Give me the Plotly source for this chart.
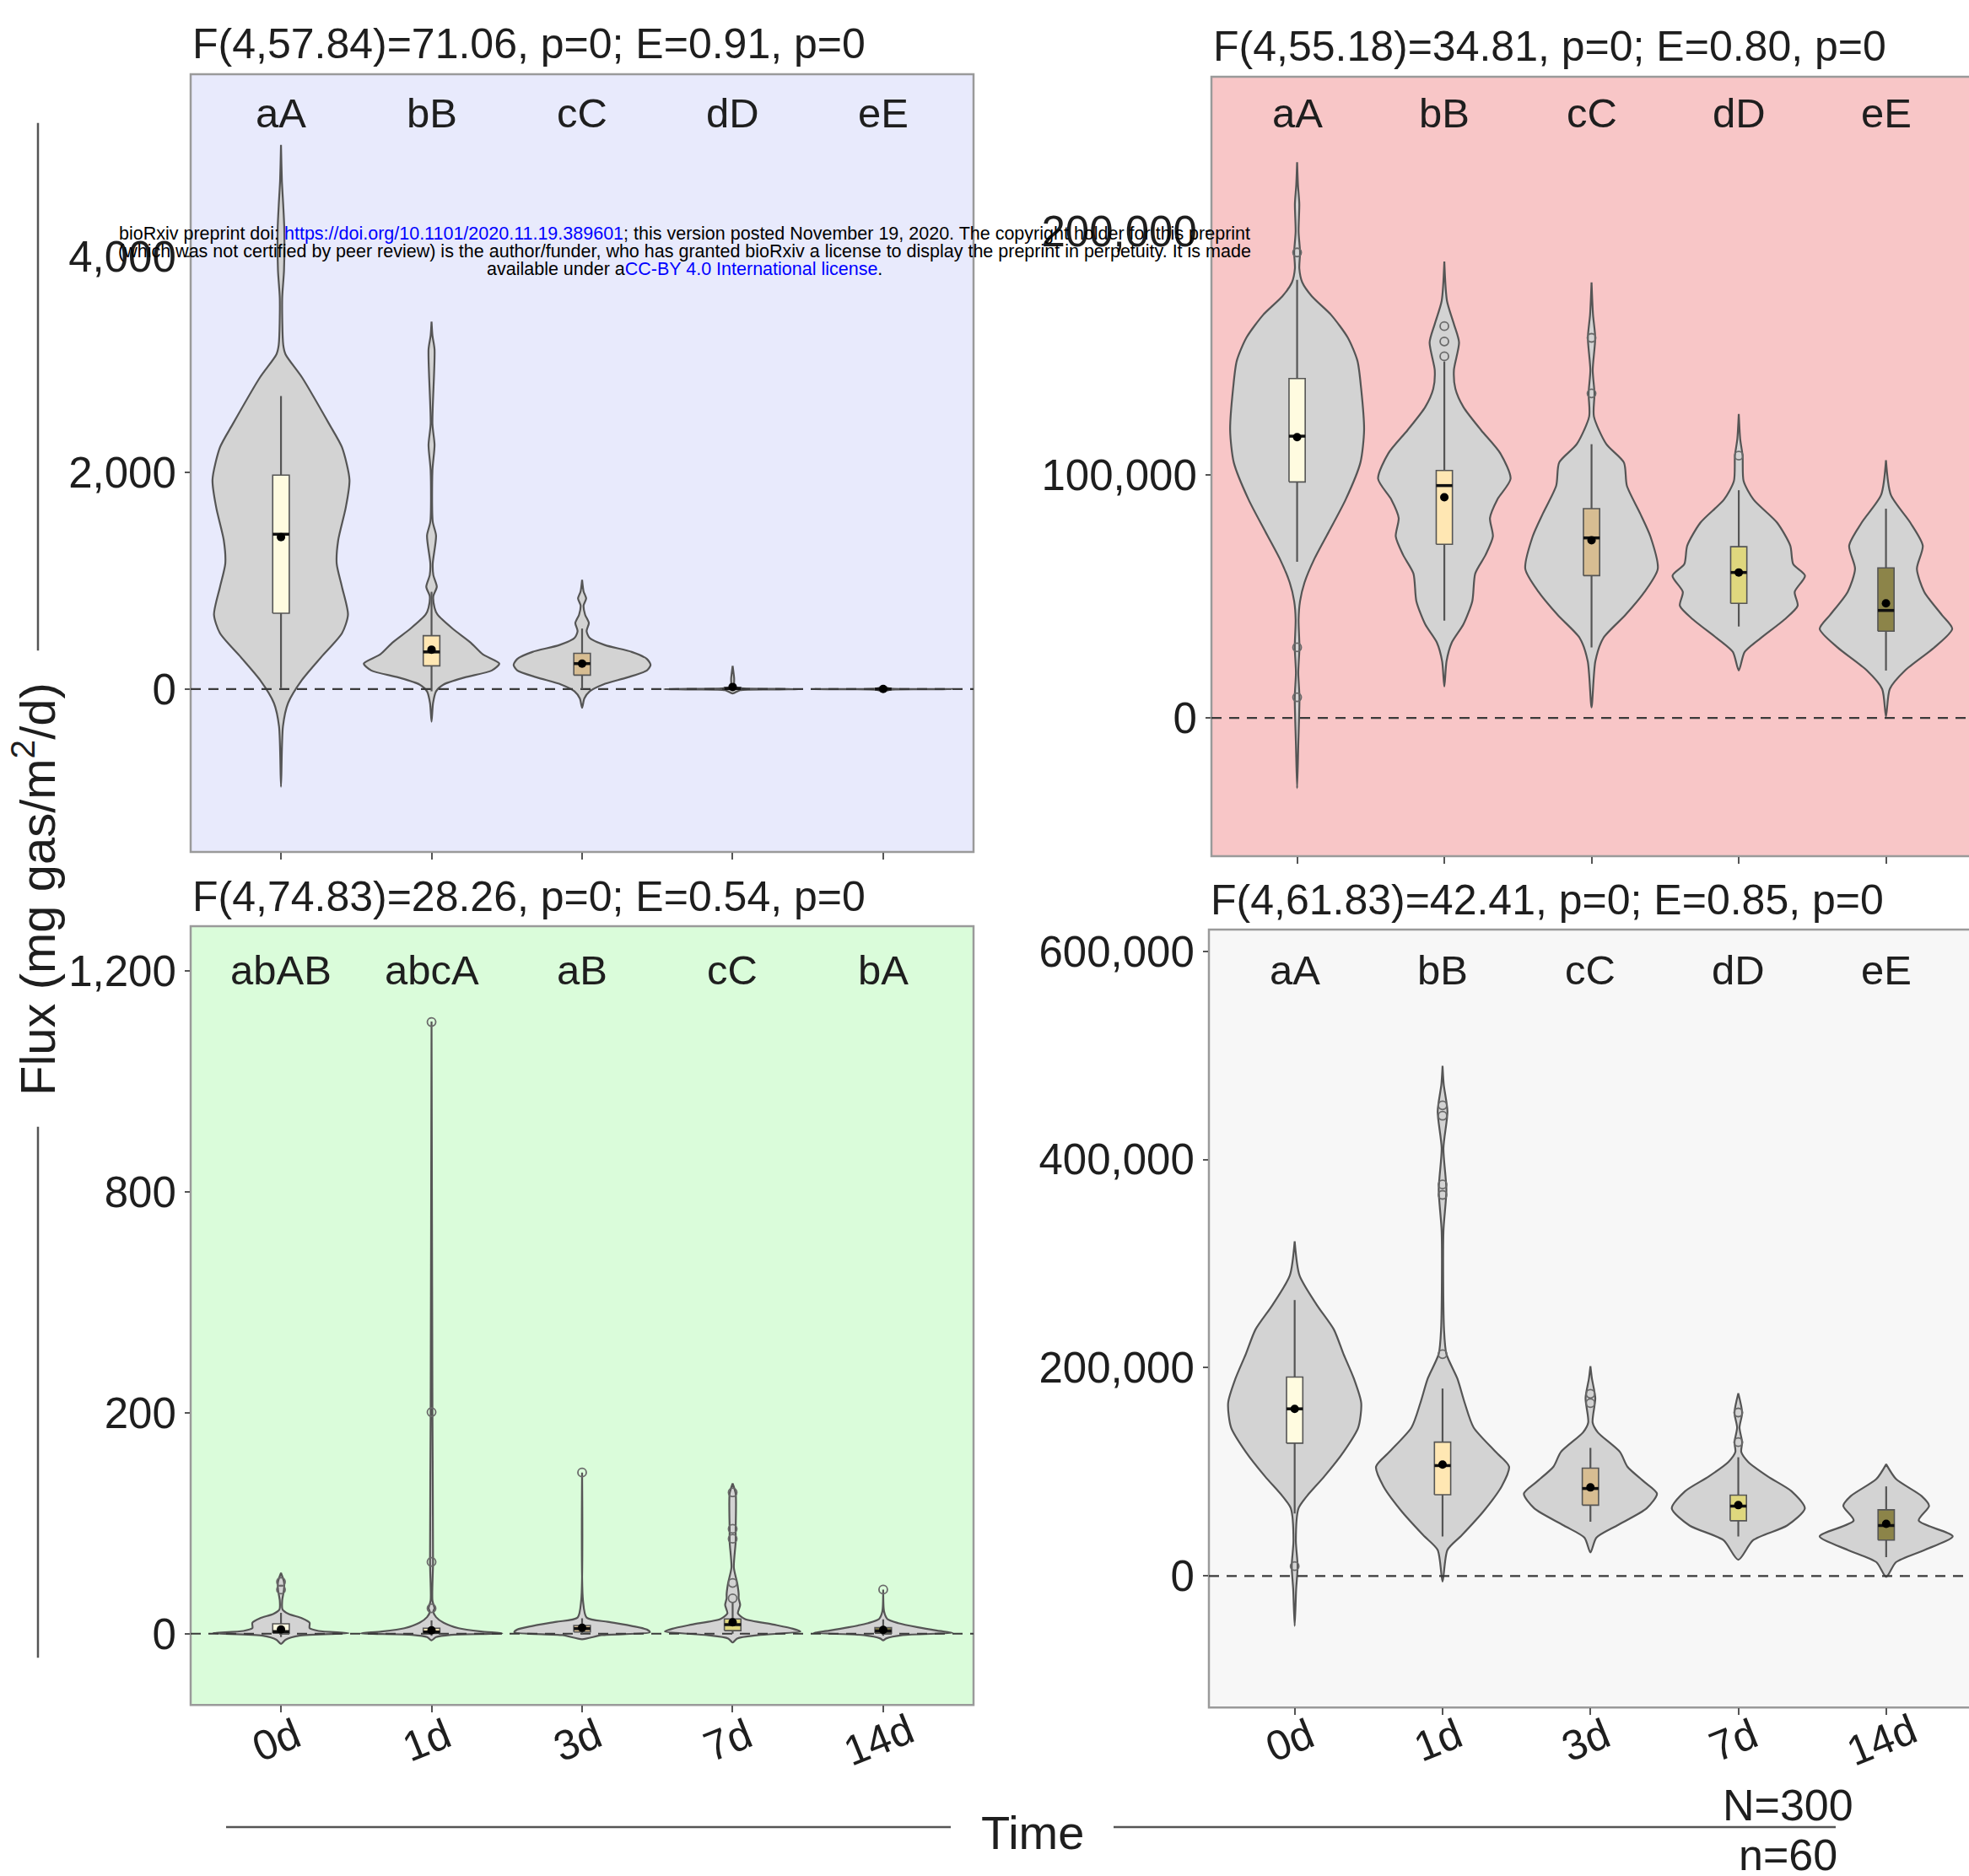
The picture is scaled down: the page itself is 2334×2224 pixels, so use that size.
import numpy as np
import plotly.graph_objects as go

W, H = 2334, 2224
FONT = "Liberation Sans, Arial, sans-serif"
TXT = "#1e1e1e"

categories = ["0d", "1d", "3d", "7d", "14d"]
box_colors = ["#FFFBE0", "#FFE7B3", "#D7BD92", "#DFD77E", "#8C8449"]

titles = [
    "F(4,57.84)=71.06, p=0; E=0.91, p=0",
    "F(4,55.18)=34.81, p=0; E=0.80, p=0",
    "F(4,74.83)=28.26, p=0; E=0.54, p=0",
    "F(4,61.83)=42.41, p=0; E=0.85, p=0",
]
letters_a = ["aA", "bB", "cC", "dD", "eE"]
letters_b = ["aA", "bB", "cC", "dD", "eE"]
letters_c = ["abAB", "abcA", "aB", "cC", "bA"]
letters_d = ["aA", "bB", "cC", "dD", "eE"]

# ---------------- panel A (top-left, blue) ----------------
a_vals = [
    [-903, -344, -129, 86, 301, 516, 688, 946, 1161, 1376, 1677, 1935, 2236, 2451, 2881, 3096, 3182, 3612, 3870, 4257, 4472, 4700, 5031],
    [-301, -129, -21, 43, 108, 172, 236, 322, 430, 559, 688, 753, 860, 946, 1053, 1161, 1419, 1548, 2021, 2257, 2451, 3139, 3268, 3397],
    [-172, -86, -21, 43, 108, 172, 224, 280, 344, 408, 473, 537, 611, 688, 774, 838, 903, 1010],
    [-40, -10, -3, 0, 3, 10, 30, 100, 215],
    [-20, -5, -1.5, 0, 1.5, 5, 20],
]
a_width = [
    [0, 0.013, 0.047, 0.14, 0.27, 0.405, 0.445, 0.405, 0.37, 0.38, 0.43, 0.455, 0.405, 0.32, 0.14, 0.03, 0.015, 0.008, 0.02, 0.022, 0.015, 0.006, 0],
    [0, 0.01, 0.03, 0.08, 0.22, 0.40, 0.45, 0.34, 0.26, 0.14, 0.04, 0.02, 0.012, 0.035, 0.012, 0.008, 0.03, 0.008, 0.006, 0.02, 0.006, 0.02, 0.006, 0],
    [0, 0.015, 0.05, 0.14, 0.3, 0.43, 0.455, 0.43, 0.33, 0.15, 0.05, 0.03, 0.045, 0.02, 0.01, 0.027, 0.01, 0],
    [0, 0.05, 0.3, 0.455, 0.3, 0.04, 0.012, 0.01, 0],
    [0, 0.05, 0.3, 0.455, 0.3, 0.05, 0],
]
a_q1 = [701, 215, 129, 0, 0]
a_median = [1432, 344, 236, 5, 1]
a_q3 = [1978, 494, 331, 15, 2]
a_mean = [1406, 365, 236, 20, 1]
a_wlo = [10, -20, 0, -5, -1]
a_whi = [2709, 900, 560, 40, 3]
a_outliers = [[], [], [], [], []]

# ---------------- panel B (top-right, red) ----------------
b_vals = [
    [-28850, -10800, 8540, 18600, 29040, 40430, 48020, 55610, 65100, 76490, 89780, 104960, 118250, 135330, 146720, 156210, 165700, 173290, 179000, 184700, 191300, 199900, 211250, 218800, 228330],
    [12900, 23350, 30940, 38530, 48020, 59400, 67000, 74600, 82180, 89780, 98320, 108760, 118250, 127740, 135330, 142920, 154310, 161900, 171390, 187520],
    [4370, 23350, 32840, 42330, 51820, 61300, 74590, 84080, 95470, 104960, 112550, 123940, 133430, 142920, 156200, 165700, 179000],
    [19550, 27140, 32840, 40430, 46120, 51820, 58460, 63200, 70800, 80290, 89780, 97370, 107800, 114450, 124900],
    [570, 11960, 19550, 29040, 36630, 42330, 51820, 61300, 70800, 80290, 91680, 105900],
]
b_width = [
    [0, 0.008, 0.016, 0.008, 0.016, 0.01, 0.02, 0.05, 0.115, 0.215, 0.33, 0.43, 0.455, 0.435, 0.41, 0.345, 0.23, 0.1, 0.035, 0.015, 0.02, 0.01, 0.015, 0.006, 0],
    [0, 0.015, 0.05, 0.13, 0.19, 0.21, 0.28, 0.33, 0.31, 0.36, 0.45, 0.38, 0.25, 0.13, 0.075, 0.065, 0.1, 0.065, 0.018, 0],
    [0, 0.026, 0.08, 0.23, 0.36, 0.45, 0.4, 0.33, 0.24, 0.22, 0.1, 0.016, 0.02, 0.008, 0.025, 0.01, 0],
    [0, 0.04, 0.15, 0.31, 0.40, 0.38, 0.45, 0.37, 0.35, 0.26, 0.1, 0.033, 0.026, 0.01, 0],
    [0, 0.026, 0.13, 0.33, 0.45, 0.38, 0.26, 0.21, 0.25, 0.165, 0.033, 0],
]
b_q1 = [97000, 71400, 58500, 47100, 35700]
b_median = [115800, 95500, 74000, 59800, 44200]
b_q3 = [139500, 101700, 86000, 70400, 61700]
b_mean = [115400, 90700, 73000, 59800, 47100]
b_wlo = [64150, 40000, 29000, 37600, 19500]
b_whi = [180000, 146500, 112500, 93600, 86000]
b_outliers = [[8540, 29040, 191300], [148600, 154700, 161000], [133400, 156200], [107800], []]

# ---------------- panel C (bottom-left, green, broken scale) ----------------
c_breaks = [0, 200, 800, 1200]
c_vals = [
    [-9.3, -5.5, -1.8, 0.5, 2.5, 5, 10, 14, 18, 22, 30, 40, 47, 55],
    [-6, -3, -1, 0.3, 2, 5, 10, 15, 20, 23, 30, 65, 200, 1109],
    [-5, -1.3, 1.3, 3.8, 7, 10.8, 14.6, 30, 146],
    [-8, -4.3, -1.3, 2, 4.5, 8.3, 13.4, 18.4, 26, 32, 36, 46, 60, 83, 94, 127, 136],
    [-6, -4.3, -1.3, 0.8, 2.8, 5.8, 9.6, 13.4, 20, 40],
]
c_width = [
    [0, 0.03, 0.12, 0.45, 0.25, 0.19, 0.19, 0.14, 0.05, 0.01, 0.008, 0.02, 0.02, 0],
    [0, 0.03, 0.13, 0.47, 0.33, 0.18, 0.08, 0.03, 0.012, 0.02, 0.006, 0.01, 0.006, 0],
    [0, 0.13, 0.45, 0.43, 0.33, 0.17, 0.03, 0.006, 0],
    [0, 0.03, 0.17, 0.45, 0.4, 0.27, 0.08, 0.035, 0.05, 0.04, 0.04, 0.03, 0.008, 0.02, 0.02, 0.02, 0],
    [0, 0.02, 0.13, 0.46, 0.36, 0.23, 0.1, 0.027, 0.006, 0],
]
c_q1 = [0.5, 0.3, 1.5, 2.8, 0.5]
c_median = [2, 1.5, 4.5, 8.3, 2.5]
c_q3 = [9, 5, 7.5, 13.4, 5.5]
c_mean = [3.8, 3, 5.3, 10.3, 3.5]
c_wlo = [-3, -2, -1, 0, -2]
c_whi = [19, 12, 14, 28, 13]
c_outliers = [[40, 47], [23, 65, 202, 1108], [146], [32, 46, 86, 95, 128], [40]]

# ---------------- panel D (bottom-right, grey) ----------------
d_vals = [
    [-48000, -12700, 9400, 34350, 64940, 76700, 95530, 119060, 142590, 166100, 189650, 213180, 236700, 260240, 288500, 321400],
    [-5650, 24940, 39060, 62600, 86120, 104940, 119060, 142590, 166120, 189650, 213180, 236700, 330800, 370800, 410800, 446100, 472000, 489900],
    [22600, 36700, 48470, 64940, 79060, 90830, 104940, 119060, 137900, 147300, 170800, 189650, 201400],
    [15530, 34350, 48470, 64940, 81400, 95530, 109650, 119060, 128470, 142590, 156700, 175500],
    [-940, 13180, 24940, 38120, 53180, 67300, 76700, 93180, 107300],
]
d_width = [
    [0, 0.01, 0.02, 0.008, 0.026, 0.083, 0.2, 0.33, 0.43, 0.45, 0.4, 0.33, 0.265, 0.15, 0.033, 0],
    [0, 0.033, 0.13, 0.28, 0.4, 0.45, 0.36, 0.21, 0.15, 0.1, 0.026, 0.01, 0.006, 0.026, 0.006, 0.033, 0.008, 0],
    [0, 0.04, 0.18, 0.38, 0.45, 0.36, 0.25, 0.2, 0.05, 0.015, 0.033, 0.01, 0],
    [0, 0.1, 0.33, 0.45, 0.36, 0.2, 0.066, 0.02, 0.026, 0.008, 0.026, 0],
    [0, 0.066, 0.26, 0.45, 0.22, 0.29, 0.24, 0.066, 0],
]
d_q1 = [127500, 78000, 68000, 53000, 34400]
d_median = [160500, 106000, 84000, 67000, 48500]
d_q3 = [191000, 128500, 103500, 77600, 63500]
d_mean = [160500, 107000, 85000, 68000, 50000]
d_wlo = [60000, 38000, 52000, 38000, 18000]
d_whi = [265000, 180000, 123000, 114000, 86000]
d_outliers = [[9400], [213000, 366000, 376000, 442000, 452000], [166000, 175000], [128500, 157000], []]

# axis tick labels
a_ticks = [0, 2000, 4000]
a_ticktext = ["0", "2,000", "4,000"]
b_ticks = [0, 100000, 200000]
b_ticktext = ["0", "100,000", "200,000"]
c_ticks = [0, 200, 800, 1200]
c_ticktext = ["0", "200", "800", "1,200"]
d_ticks = [0, 200000, 400000, 600000]
d_ticktext = ["0", "200,000", "400,000", "600,000"]


def ident(v):
    return np.asarray(v, dtype=float)


def broken(v):
    v = np.asarray(v, dtype=float)
    pos = np.interp(v, c_breaks, np.arange(len(c_breaks)))
    return np.where(v < 0, v / 200.0, pos)


panels = [
    dict(vals=a_vals, width=a_width, q1=a_q1, med=a_median, q3=a_q3, mean=a_mean, wlo=a_wlo, whi=a_whi,
         out=a_outliers, tf=ident, letters=letters_a, ticks=a_ticks, ticktext=a_ticktext,
         bg="#E8EAFC", px=(226, 1154, 86, 1009), yr=(-1506, 5685), xr=(0.4, 5.6), letter_y=0.9497, right=False),
    dict(vals=b_vals, width=b_width, q1=b_q1, med=b_median, q3=b_q3, mean=b_mean, wlo=b_wlo, whi=b_whi,
         out=b_outliers, tf=ident, letters=letters_b, ticks=b_ticks, ticktext=b_ticktext,
         bg="#F8C6C7", px=(1436, 2334, 89, 1014), yr=(-56800, 263500), xr=(0.418, 5.564), letter_y=0.953, right=True),
    dict(vals=c_vals, width=c_width, q1=c_q1, med=c_median, q3=c_q3, mean=c_mean, wlo=c_wlo, whi=c_whi,
         out=c_outliers, tf=broken, letters=letters_c, ticks=c_ticks, ticktext=c_ticktext,
         bg="#DAFCDA", px=(226, 1154, 1097, 2021), yr=(-0.3225, 3.204), xr=(0.4, 5.6), letter_y=0.9437, right=False),
    dict(vals=d_vals, width=d_width, q1=d_q1, med=d_median, q3=d_q3, mean=d_mean, wlo=d_wlo, whi=d_whi,
         out=d_outliers, tf=ident, letters=letters_d, ticks=d_ticks, ticktext=d_ticktext,
         bg="#F7F7F7", px=(1433, 2334, 1101, 2024), yr=(-126300, 620800), xr=(0.42, 5.56), letter_y=0.948, right=True),
]

fig = go.Figure()
shapes = []
annotations = []
layout_axes = {}
BOXH = 0.055
OUTLINE = "#555555"

for i, p in enumerate(panels):
    k = "" if i == 0 else str(i + 1)
    xa, ya = "x" + k, "y" + k
    tf = p["tf"]
    x0p, x1p, y0p, y1p = p["px"]
    bottom_row = i >= 2
    layout_axes["xaxis" + k] = dict(
        domain=[x0p / W, min(x1p / W, 1.0)], range=list(p["xr"]), anchor=ya,
        tickmode="array", tickvals=[1, 2, 3, 4, 5], ticktext=categories,
        showticklabels=False, ticks="outside", ticklen=8, tickwidth=2,
        tickcolor="#555", showgrid=False, zeroline=False, showline=False,
    )
    layout_axes["yaxis" + k] = dict(
        domain=[1 - y1p / H, 1 - y0p / H], range=list(p["yr"]), anchor=xa,
        tickmode="array", tickvals=list(tf(p["ticks"])), ticktext=p["ticktext"],
        ticks="outside", ticklen=6, tickwidth=2, tickcolor="#555",
        showgrid=False, zeroline=False, showline=False,
        tickfont=dict(family=FONT, size=51, color=TXT),
    )
    # panel background and border
    shapes.append(dict(type="rect", xref=xa + " domain", yref=ya + " domain", x0=0, x1=1.03 if p["right"] else 1,
                       y0=0, y1=1, fillcolor=p["bg"], line=dict(color="#9a9a9a", width=2.5), layer="below"))
    # violins
    for j in range(5):
        c = j + 1
        v = np.asarray(p["vals"][j], dtype=float)
        w = np.asarray(p["width"][j], dtype=float)
        ys = tf(np.concatenate([v, v[::-1]]))
        xs = np.concatenate([c + w, (c - w)[::-1]])
        fig.add_trace(go.Scatter(x=xs, y=ys, xaxis=xa, yaxis=ya, mode="lines", fill="toself",
                                 fillcolor="#D3D3D3", line=dict(color=OUTLINE, width=2.2, shape="spline", smoothing=0.7),
                                 hoverinfo="skip", showlegend=False))
    # zero dashed line
    fig.add_trace(go.Scatter(x=list(p["xr"]), y=[0, 0], xaxis=xa, yaxis=ya, mode="lines",
                             line=dict(color="#3a3a3a", width=2.2, dash="12px,9px"), hoverinfo="skip", showlegend=False))
    # boxes
    for j in range(5):
        c = j + 1
        fig.add_trace(go.Scatter(x=[c, c], y=tf([p["wlo"][j], p["whi"][j]]), xaxis=xa, yaxis=ya, mode="lines",
                                 line=dict(color=OUTLINE, width=2.2), hoverinfo="skip", showlegend=False))
        q1, q3 = tf([p["q1"][j], p["q3"][j]])
        fig.add_trace(go.Scatter(x=[c - BOXH, c + BOXH, c + BOXH, c - BOXH, c - BOXH], y=[q1, q1, q3, q3, q1],
                                 xaxis=xa, yaxis=ya, mode="lines", fill="toself", fillcolor=box_colors[j],
                                 line=dict(color=OUTLINE, width=1.6), hoverinfo="skip", showlegend=False))
        m = float(tf([p["med"][j]])[0])
        fig.add_trace(go.Scatter(x=[c - BOXH, c + BOXH], y=[m, m], xaxis=xa, yaxis=ya, mode="lines",
                                 line=dict(color="#111", width=3.5), hoverinfo="skip", showlegend=False))
        if p["out"][j]:
            fig.add_trace(go.Scatter(x=[c] * len(p["out"][j]), y=tf(p["out"][j]), xaxis=xa, yaxis=ya,
                                     mode="markers", marker=dict(symbol="circle-open", size=10, color="#6a6a6a",
                                                                 line=dict(width=1.8)),
                                     hoverinfo="skip", showlegend=False))
        fig.add_trace(go.Scatter(x=[c], y=tf([p["mean"][j]]), xaxis=xa, yaxis=ya, mode="markers",
                                 marker=dict(symbol="circle", size=10, color="#000"),
                                 hoverinfo="skip", showlegend=False))
    # letters
    for j, lt in enumerate(p["letters"]):
        annotations.append(dict(x=j + 1, y=p["letter_y"], xref=xa, yref=ya + " domain", text=lt, showarrow=False,
                                xanchor="center", yanchor="middle", font=dict(family=FONT, size=49, color=TXT)))
    # rotated category labels under the bottom panels
    if bottom_row:
        for j, cat in enumerate(categories):
            annotations.append(dict(x=j + 1 - 0.03, y=1 - 2063 / H, xref=xa, yref="paper", text=cat,
                                    showarrow=False, textangle=-22, xanchor="center", yanchor="middle",
                                    font=dict(family=FONT, size=50, color=TXT)))
    # title
    annotations.append(dict(x=x0p / W, y=1 - (y0p - 35.5) / H, xref="paper", yref="paper", text=titles[i],
                            showarrow=False, xanchor="left", yanchor="middle",
                            font=dict(family=FONT, size=50, color=TXT)))

# global axis titles with decorative lines
annotations.append(dict(x=40 / W, y=1 - 1053 / H, xref="paper", yref="paper", text="Flux (mg gas/m<sup>2</sup>/d)",
                        textangle=-90, showarrow=False, xanchor="center", yanchor="middle",
                        font=dict(family=FONT, size=58, color=TXT)))
annotations.append(dict(x=1224 / W, y=1 - 2172 / H, xref="paper", yref="paper", text="Time",
                        showarrow=False, xanchor="center", yanchor="middle",
                        font=dict(family=FONT, size=56, color=TXT)))
annotations.append(dict(x=2119 / W, y=1 - 2140 / H, xref="paper", yref="paper", text="N=300",
                        showarrow=False, xanchor="center", yanchor="middle",
                        font=dict(family=FONT, size=52, color=TXT)))
annotations.append(dict(x=2119 / W, y=1 - 2199 / H, xref="paper", yref="paper", text="n=60",
                        showarrow=False, xanchor="center", yanchor="middle",
                        font=dict(family=FONT, size=52, color=TXT)))
for (xx0, yy0, xx1, yy1) in [(45, 144, 45, 770), (45, 1335, 45, 1965), (268, 2166, 1127, 2166), (1320, 2166, 2176, 2166)]:
    shapes.append(dict(type="line", xref="paper", yref="paper", x0=xx0 / W, x1=xx1 / W, y0=1 - yy0 / H, y1=1 - yy1 / H,
                       line=dict(color="#555", width=2.5)))

# bioRxiv watermark
BLUE = "#0000FF"
wm_lines = [
    "bioRxiv preprint doi: <span style='color:%s'>https://doi.org/10.1101/2020.11.19.389601</span>; this version posted November 19, 2020. The copyright holder for this preprint" % BLUE,
    "(which was not certified by peer review) is the author/funder, who has granted bioRxiv a license to display the preprint in perpetuity. It is made",
    "available under a<span style='color:%s'>CC-BY 4.0 International license</span>." % BLUE,
]
for yy, t in zip([275, 296, 317], wm_lines):
    annotations.append(dict(x=811 / W, y=1 - yy / H, xref="paper", yref="paper", text=t, showarrow=False,
                            xanchor="center", yanchor="middle", font=dict(family=FONT, size=21.5, color="#000")))

fig.update_layout(
    width=W, height=H, autosize=False,
    margin=dict(l=0, r=0, t=0, b=0),
    paper_bgcolor="white", plot_bgcolor="rgba(0,0,0,0)",
    shapes=shapes, annotations=annotations, showlegend=False,
    **layout_axes,
)
fig.write_html("out.html", config={"displayModeBar": False},
               post_script="document.body.style.margin='0px';document.body.style.overflow='hidden';")
